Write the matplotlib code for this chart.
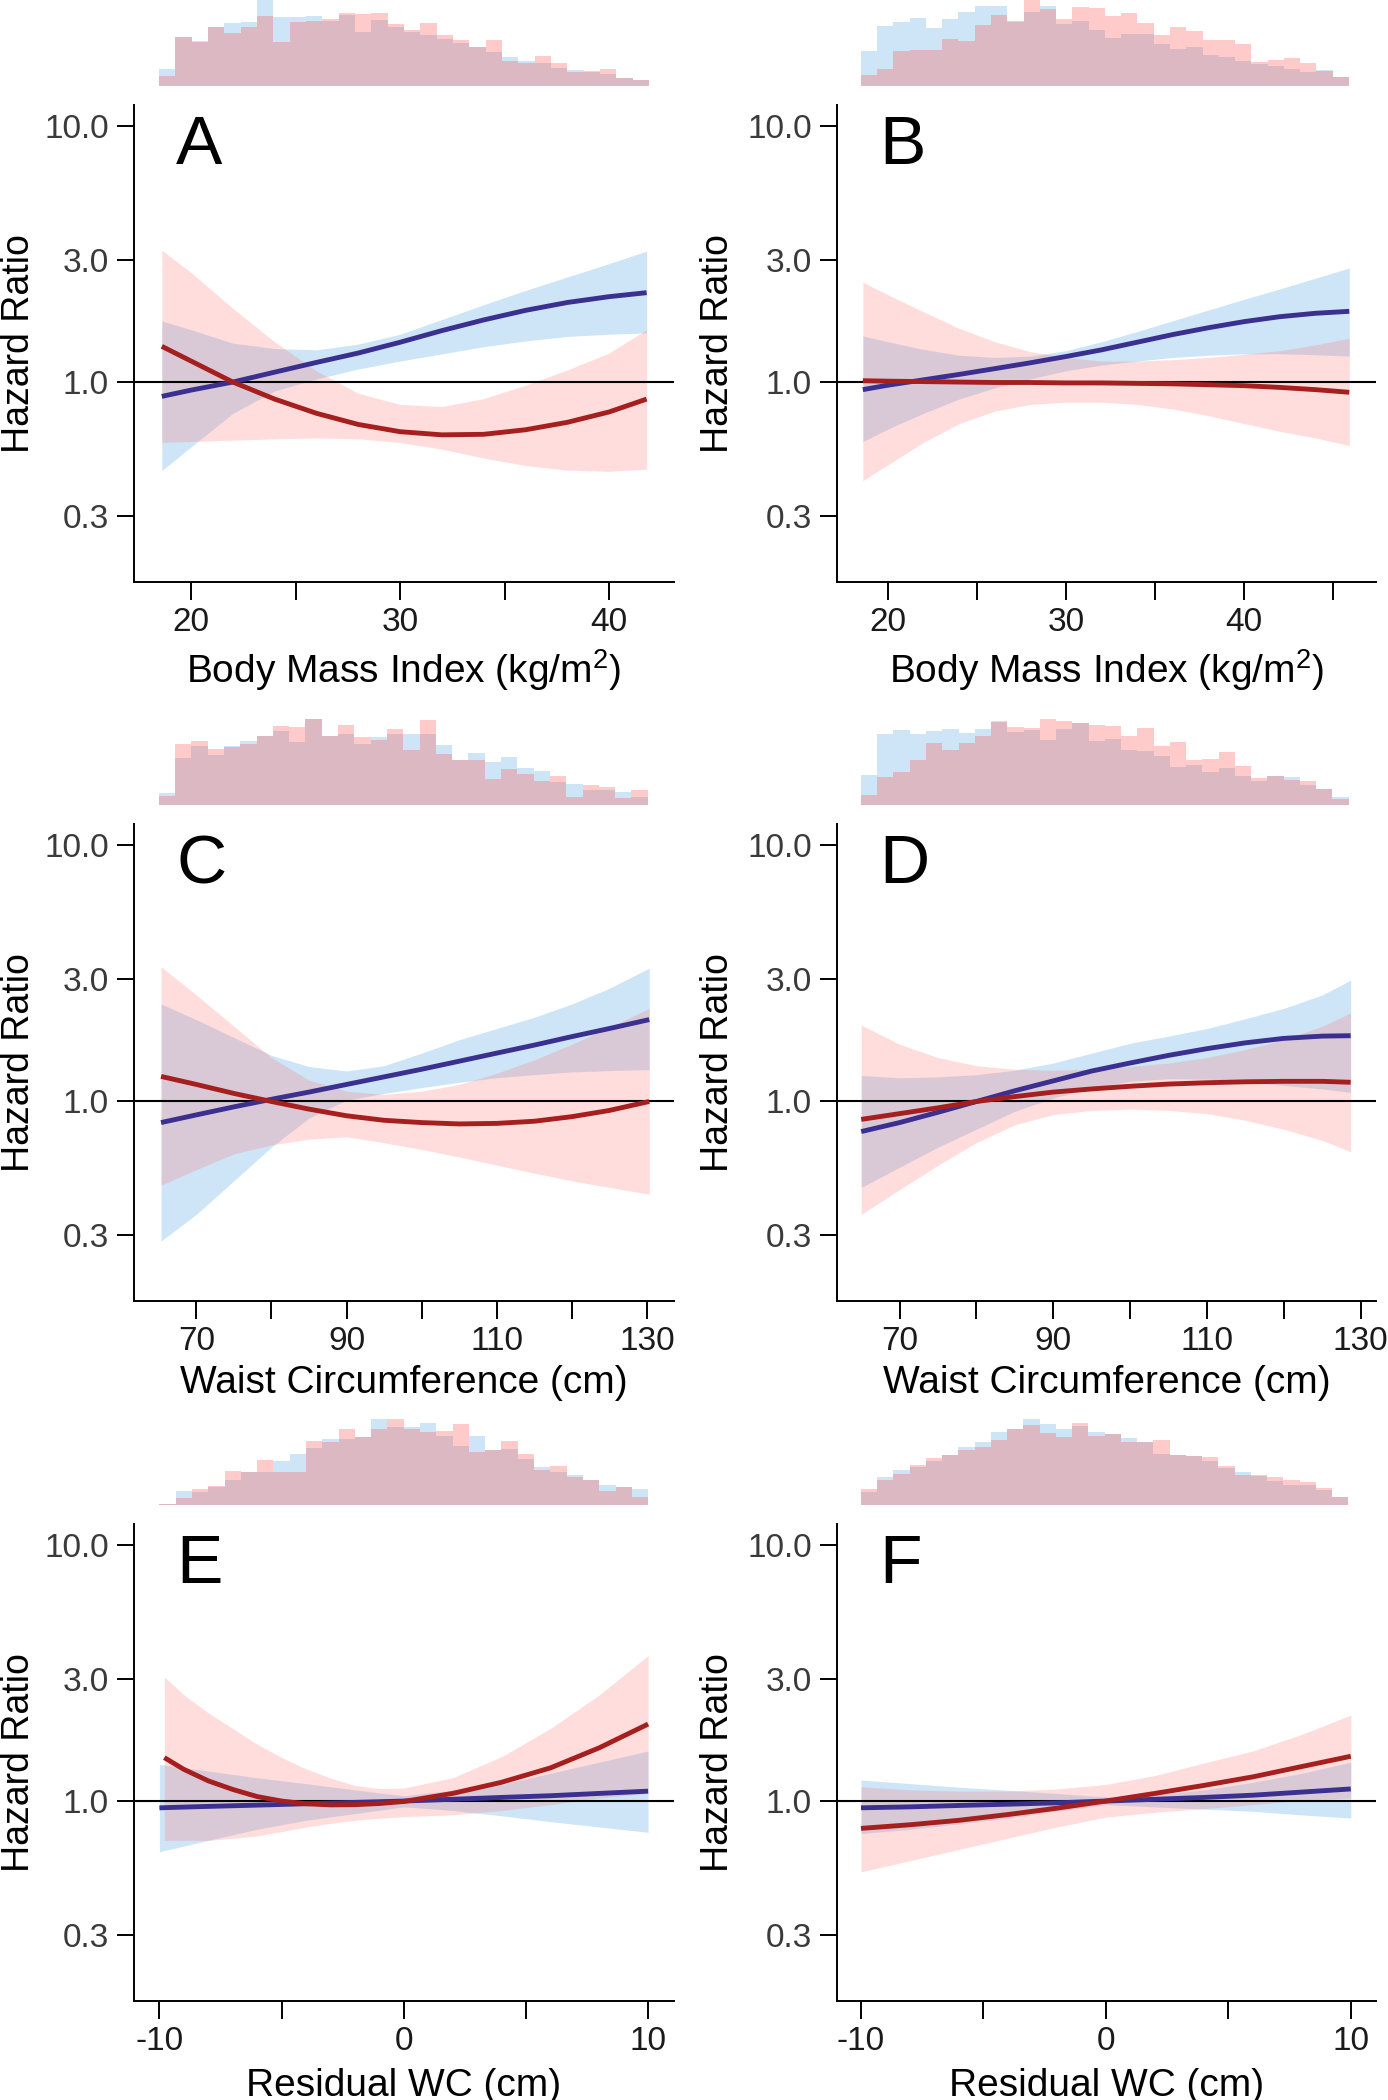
import numpy as np
import matplotlib
matplotlib.use("Agg")
import matplotlib.pyplot as plt
from matplotlib.ticker import NullLocator

plt.rcParams["font.family"] = ["Liberation Sans", "DejaVu Sans"]
plt.rcParams["mathtext.fontset"] = "custom"
plt.rcParams["mathtext.rm"] = "Liberation Sans"

# ---- panel A : BMI (first column) ----
a_x = [18.6, 20, 22, 24, 26, 28, 30, 32, 34, 36, 38, 40, 41.8]
a_blue = [0.879, 0.930, 1.0, 1.093, 1.193, 1.298, 1.430, 1.588, 1.748, 1.905, 2.045, 2.155, 2.234]
a_blue_hi = [1.734, 1.601, 1.419, 1.352, 1.336, 1.407, 1.537, 1.755, 2.004, 2.279, 2.572, 2.901, 3.246]
a_blue_lo = [0.451, 0.558, 0.755, 0.923, 1.028, 1.124, 1.208, 1.288, 1.374, 1.447, 1.507, 1.537, 1.556]
a_red = [1.379, 1.208, 1.0, 0.858, 0.755, 0.683, 0.640, 0.622, 0.625, 0.651, 0.696, 0.764, 0.858]
a_red_hi = [3.272, 2.677, 1.941, 1.436, 1.106, 0.904, 0.818, 0.802, 0.862, 0.972, 1.115, 1.298, 1.601]
a_red_lo = [0.581, 0.586, 0.593, 0.600, 0.605, 0.600, 0.581, 0.547, 0.505, 0.472, 0.453, 0.448, 0.457]
a_hist_red = [30, 148, 133, 178, 158, 178, 210, 131, 193, 196, 200, 218, 215, 218, 185,
              168, 190, 153, 138, 116, 138, 75, 68, 90, 68, 41, 46, 50, 25, 18]
a_hist_blue = [51, 148, 136, 178, 188, 193, 262, 206, 206, 210, 196, 213, 163, 198, 178,
               163, 153, 140, 130, 116, 103, 88, 75, 68, 55, 48, 43, 36, 25, 18]

# ---- panel B : BMI (second column) ----
b_x = [18.6, 20, 22, 24, 26, 28, 30, 32, 34, 36, 38, 40, 42, 44, 45.9]
b_blue = [0.934, 0.972, 1.020, 1.071, 1.128, 1.189, 1.258, 1.336, 1.431, 1.533, 1.630, 1.722, 1.800, 1.856, 1.889]
b_blue_hi = [1.514, 1.437, 1.341, 1.273, 1.248, 1.263, 1.326, 1.437, 1.576, 1.736, 1.912, 2.106, 2.310, 2.544, 2.791]
b_blue_lo = [0.585, 0.655, 0.755, 0.858, 0.949, 1.028, 1.106, 1.165, 1.208, 1.248, 1.273, 1.289, 1.289, 1.278, 1.263]
b_red = [1.012, 1.008, 1.004, 1.0, 0.996, 0.996, 0.992, 0.992, 0.988, 0.984, 0.976, 0.968, 0.953, 0.934, 0.912]
b_red_hi = [2.454, 2.193, 1.881, 1.621, 1.437, 1.315, 1.248, 1.208, 1.208, 1.223, 1.248, 1.284, 1.326, 1.397, 1.483]
b_red_lo = [0.412, 0.475, 0.581, 0.688, 0.770, 0.818, 0.834, 0.834, 0.818, 0.785, 0.739, 0.688, 0.642, 0.605, 0.565]
b_hist_red = [33, 51, 106, 108, 108, 140, 135, 183, 213, 195, 265, 230, 201, 238, 233,
              210, 220, 188, 153, 176, 166, 138, 138, 126, 73, 78, 83, 68, 46, 26]
b_hist_blue = [105, 180, 193, 203, 173, 200, 221, 241, 241, 193, 223, 240, 186, 196, 168,
               145, 156, 156, 125, 111, 118, 93, 88, 75, 65, 61, 51, 43, 48, 26]

# ---- panel C : waist circumference (first column) ----
c_x = [65.3, 70, 75, 80, 85, 90, 95, 100, 105, 110, 115, 120, 125, 130.3]
c_blue = [0.824, 0.883, 0.949, 1.016, 1.084, 1.161, 1.243, 1.331, 1.431, 1.539, 1.654, 1.785, 1.920, 2.080]
c_blue_hi = [2.395, 2.080, 1.771, 1.508, 1.364, 1.310, 1.374, 1.539, 1.736, 1.920, 2.123, 2.395, 2.758, 3.305]
c_blue_lo = [0.284, 0.361, 0.488, 0.661, 0.858, 1.008, 1.071, 1.128, 1.184, 1.233, 1.268, 1.299, 1.315, 1.326]
c_red = [1.248, 1.161, 1.071, 0.996, 0.930, 0.876, 0.841, 0.824, 0.814, 0.818, 0.834, 0.869, 0.919, 0.996]
c_red_hi = [3.346, 2.596, 1.959, 1.478, 1.208, 1.093, 1.062, 1.093, 1.161, 1.284, 1.448, 1.667, 1.943, 2.301]
c_red_lo = [0.469, 0.540, 0.622, 0.674, 0.710, 0.725, 0.688, 0.647, 0.605, 0.562, 0.523, 0.488, 0.460, 0.433]
c_hist_red = [27, 182, 190, 168, 173, 182, 207, 237, 232, 257, 207, 240, 202, 193, 228,
              165, 253, 152, 133, 133, 78, 108, 92, 70, 87, 23, 60, 53, 19, 45]
c_hist_blue = [35, 140, 177, 150, 177, 192, 207, 220, 187, 257, 207, 213, 182, 203, 213,
               213, 212, 178, 133, 155, 127, 142, 110, 100, 67, 63, 45, 43, 37, 22]

# ---- panel D : waist circumference (second column) ----
d_x = [65, 70, 75, 80, 85, 90, 95, 100, 105, 110, 115, 120, 125, 128.7]
d_blue = [0.760, 0.824, 0.904, 0.996, 1.097, 1.199, 1.310, 1.408, 1.508, 1.602, 1.688, 1.757, 1.793, 1.800]
d_blue_hi = [1.258, 1.233, 1.243, 1.268, 1.320, 1.408, 1.539, 1.681, 1.793, 1.920, 2.097, 2.301, 2.596, 2.965]
d_blue_lo = [0.460, 0.551, 0.661, 0.776, 0.912, 1.028, 1.124, 1.194, 1.223, 1.218, 1.184, 1.151, 1.115, 1.080]
d_red = [0.848, 0.893, 0.941, 0.996, 1.041, 1.084, 1.115, 1.142, 1.165, 1.179, 1.189, 1.194, 1.194, 1.184]
d_red_hi = [1.982, 1.667, 1.478, 1.374, 1.331, 1.320, 1.331, 1.364, 1.408, 1.478, 1.589, 1.736, 1.959, 2.211]
d_red_lo = [0.361, 0.451, 0.562, 0.688, 0.808, 0.886, 0.919, 0.930, 0.919, 0.893, 0.841, 0.776, 0.702, 0.634]
d_hist_red = [30, 83, 97, 135, 185, 163, 185, 207, 247, 233, 230, 257, 252, 245, 238,
              237, 207, 230, 177, 189, 135, 137, 159, 115, 80, 86, 74, 70, 47, 17]
d_hist_blue = [90, 213, 223, 213, 220, 228, 215, 227, 250, 217, 223, 195, 227, 245, 190,
               198, 163, 162, 145, 113, 120, 98, 110, 87, 72, 86, 82, 60, 47, 23]

# ---- panel E : residual WC (first column) ----
e_x = [-10, -8, -6, -4, -2, 0, 2, 4, 6, 8, 10]
e_blue = [0.941, 0.953, 0.964, 0.976, 0.988, 1.0, 1.016, 1.033, 1.049, 1.071, 1.093]
e_blue_hi = [1.391, 1.310, 1.233, 1.170, 1.106, 1.049, 1.102, 1.161, 1.284, 1.419, 1.569]
e_blue_lo = [0.634, 0.702, 0.776, 0.841, 0.893, 0.949, 0.919, 0.876, 0.831, 0.792, 0.755]
e_red_x = [-9.8, -9, -8, -7, -6, -5, -4, -3, -2, -1, 0, 2, 4, 6, 8, 10]
e_red = [1.478, 1.330, 1.199, 1.110, 1.041, 1.000, 0.976, 0.966, 0.968, 0.978, 0.996,
         1.071, 1.184, 1.347, 1.614, 1.998]
e_red_hi = [3.05, 2.600, 2.211, 1.920, 1.667, 1.480, 1.336, 1.230, 1.151, 1.118, 1.124,
            1.233, 1.490, 1.920, 2.596, 3.700]
e_red_lo = [0.702, 0.702, 0.702, 0.715, 0.731, 0.760, 0.792, 0.818, 0.841, 0.857, 0.869,
            0.883, 0.919, 0.968, 1.028, 1.071]
e_hist_red = [1, 20, 48, 57, 102, 99, 135, 99, 99, 190, 188, 227, 202, 227, 259,
              227, 217, 220, 241, 157, 165, 190, 153, 103, 117, 82, 73, 42, 52, 23]
e_hist_blue = [1, 40, 37, 52, 73, 99, 97, 132, 152, 170, 197, 198, 202, 259, 233,
               233, 245, 207, 175, 207, 165, 167, 137, 113, 97, 89, 73, 58, 52, 47]

# ---- panel F : residual WC (second column) ----
f_x = [-10, -8, -6, -4, -2, 0, 2, 4, 6, 8, 10]
f_blue = [0.941, 0.949, 0.961, 0.972, 0.984, 1.0, 1.016, 1.033, 1.054, 1.084, 1.115]
f_blue_hi = [1.208, 1.170, 1.133, 1.102, 1.071, 1.037, 1.058, 1.106, 1.184, 1.284, 1.419]
f_blue_lo = [0.746, 0.776, 0.814, 0.858, 0.912, 0.968, 0.949, 0.930, 0.912, 0.883, 0.858]
f_red = [0.782, 0.808, 0.841, 0.886, 0.938, 1.0, 1.071, 1.151, 1.243, 1.364, 1.496]
f_red_hi = [1.137, 1.106, 1.093, 1.093, 1.115, 1.161, 1.258, 1.408, 1.569, 1.822, 2.166]
f_red_lo = [0.529, 0.585, 0.647, 0.716, 0.792, 0.865, 0.904, 0.934, 0.968, 1.008, 1.028]
f_hist_red = [47, 73, 93, 118, 141, 150, 163, 173, 193, 227, 238, 215, 203, 245, 205,
              212, 187, 189, 193, 150, 147, 143, 117, 88, 90, 83, 73, 68, 50, 23]
f_hist_blue = [37, 83, 103, 113, 130, 150, 173, 189, 217, 227, 258, 241, 228, 237, 218,
               212, 200, 189, 152, 150, 145, 130, 110, 97, 87, 70, 60, 60, 43, 23]

# axis ticks / labels
bmi_label = r"Body Mass Index (kg/m$^{2}$)"
wc_label = "Waist Circumference (cm)"
res_label = "Residual WC (cm)"
y_ticks = [0.3, 1.0, 3.0, 10.0]
y_ticklabels = ["0.3", "1.0", "3.0", "10.0"]

panels = [
    dict(letter="A", row=0, col=0, x=a_x, rx=a_x, blue=a_blue, blo=a_blue_lo, bhi=a_blue_hi,
         red=a_red, rlo=a_red_lo, rhi=a_red_hi, hr=a_hist_red, hb=a_hist_blue,
         hrange=(18.47, 41.91), xlim=(17.27, 43.11), ticks=[20, 25, 30, 35, 40],
         labels=["20", "", "30", "", "40"], xlabel=bmi_label),
    dict(letter="B", row=0, col=1, x=b_x, rx=b_x, blue=b_blue, blo=b_blue_lo, bhi=b_blue_hi,
         red=b_red, rlo=b_red_lo, rhi=b_red_hi, hr=b_hist_red, hb=b_hist_blue,
         hrange=(18.49, 45.88), xlim=(17.15, 47.4), ticks=[20, 25, 30, 35, 40, 45],
         labels=["20", "", "30", "", "40", ""], xlabel=bmi_label),
    dict(letter="C", row=1, col=0, x=c_x, rx=c_x, blue=c_blue, blo=c_blue_lo, bhi=c_blue_hi,
         red=c_red, rlo=c_red_lo, rhi=c_red_hi, hr=c_hist_red, hb=c_hist_blue,
         hrange=(65.0, 130.1), xlim=(61.7, 133.6), ticks=[70, 80, 90, 100, 110, 120, 130],
         labels=["70", "", "90", "", "110", "", "130"], xlabel=wc_label),
    dict(letter="D", row=1, col=1, x=d_x, rx=d_x, blue=d_blue, blo=d_blue_lo, bhi=d_blue_hi,
         red=d_red, rlo=d_red_lo, rhi=d_red_hi, hr=d_hist_red, hb=d_hist_blue,
         hrange=(64.97, 128.45), xlim=(61.85, 132.0), ticks=[70, 80, 90, 100, 110, 120, 130],
         labels=["70", "", "90", "", "110", "", "130"], xlabel=wc_label),
    dict(letter="E", row=2, col=0, x=e_x, rx=e_red_x, blue=e_blue, blo=e_blue_lo, bhi=e_blue_hi,
         red=e_red, rlo=e_red_lo, rhi=e_red_hi, hr=e_hist_red, hb=e_hist_blue,
         hrange=(-10.0, 10.0), xlim=(-11.04, 11.06), ticks=[-10, -5, 0, 5, 10],
         labels=["-10", "", "0", "", "10"], xlabel=res_label),
    dict(letter="F", row=2, col=1, x=f_x, rx=f_x, blue=f_blue, blo=f_blue_lo, bhi=f_blue_hi,
         red=f_red, rlo=f_red_lo, rhi=f_red_hi, hr=f_hist_red, hb=f_hist_blue,
         hrange=(-10.0, 9.9), xlim=(-10.98, 11.03), ticks=[-10, -5, 0, 5, 10],
         labels=["-10", "", "0", "", "10"], xlabel=res_label),
]

# layout in pixels of the 1388 x 2100 canvas
W, H = 1388, 2100
col_lr = [(134, 674), (837, 1376)]
row_tb = [(105, 582), (824, 1301), (1524, 2001)]
hist_bottom = [86, 804.5, 1504.5]
hist_h = 86
xlabel_base = [683, 1393, 2096]
ylabel_x = [19, 718]

blue_line = "#3b2f8f"
red_line = "#a61f1f"
blue_fill = (92 / 255, 172 / 255, 228 / 255)
red_band = (1.0, 120 / 255, 120 / 255)
red_hist = (1.0, 80 / 255, 80 / 255)


def px_axes(fig, left, top, right, bottom):
    return fig.add_axes([left / W, 1 - bottom / H, (right - left) / W, (bottom - top) / H])


fig = plt.figure(figsize=(W / 100, H / 100), dpi=100)

for p in panels:
    left, right = col_lr[p["col"]]
    top, bottom = row_tb[p["row"]]

    # histogram strip
    hb = hist_bottom[p["row"]]
    axh = px_axes(fig, left, hb - hist_h, right, hb)
    edges = np.linspace(p["hrange"][0], p["hrange"][1], len(p["hr"]) + 1)
    axh.stairs(p["hb"], edges, fill=True, color=blue_fill, alpha=0.3, linewidth=0)
    axh.stairs(p["hr"], edges, fill=True, color=red_hist, alpha=0.3, linewidth=0)
    axh.set_xlim(p["xlim"])
    axh.set_ylim(0, 258)
    axh.axis("off")

    # main hazard ratio panel
    ax = px_axes(fig, left, top, right, bottom)
    ax.set_yscale("log")
    ax.fill_between(p["x"], p["blo"], p["bhi"], color=blue_fill, alpha=0.3, linewidth=0, zorder=1)
    ax.fill_between(p["rx"], p["rlo"], p["rhi"], color=red_band, alpha=0.25, linewidth=0, zorder=1.5)
    ax.axhline(1.0, color="black", linewidth=1.5, zorder=2)
    ax.plot(p["x"], p["blue"], color=blue_line, linewidth=3.5, zorder=3,
            solid_capstyle="butt", solid_joinstyle="round")
    ax.plot(p["rx"], p["red"], color=red_line, linewidth=3.5, zorder=4,
            solid_capstyle="butt", solid_joinstyle="round")

    ax.set_xlim(p["xlim"])
    ax.set_ylim(0.1656, 12.08)
    ax.set_yticks(y_ticks)
    ax.set_yticklabels(y_ticklabels)
    ax.yaxis.set_minor_locator(NullLocator())
    ax.set_xticks(p["ticks"])
    ax.set_xticklabels(p["labels"])
    ax.tick_params(axis="x", direction="out", length=12.6, width=1.4, pad=5.5,
                   labelsize=24, labelcolor="#1a1a1a")
    ax.tick_params(axis="y", direction="out", length=12.6, width=1.4, pad=5.5,
                   labelsize=24, labelcolor="#3a3a3a")
    for s in ["top", "right"]:
        ax.spines[s].set_visible(False)
    for s in ["left", "bottom"]:
        ax.spines[s].set_linewidth(1.4)
    ax.set_facecolor("none")

    fig.text((left + 42) / W, 1 - (top + 59) / H, p["letter"], fontsize=50,
             ha="left", va="baseline")
    fig.text(ylabel_x[p["col"]] / W, 1 - (top + bottom) / 2 / H, "Hazard Ratio",
             rotation=90, ha="center", va="center", fontsize=27)
    fig.text((left + right) / 2 / W, 1 - xlabel_base[p["row"]] / H, p["xlabel"],
             ha="center", va="baseline", fontsize=28)

fig.savefig("out.png", dpi=100)
